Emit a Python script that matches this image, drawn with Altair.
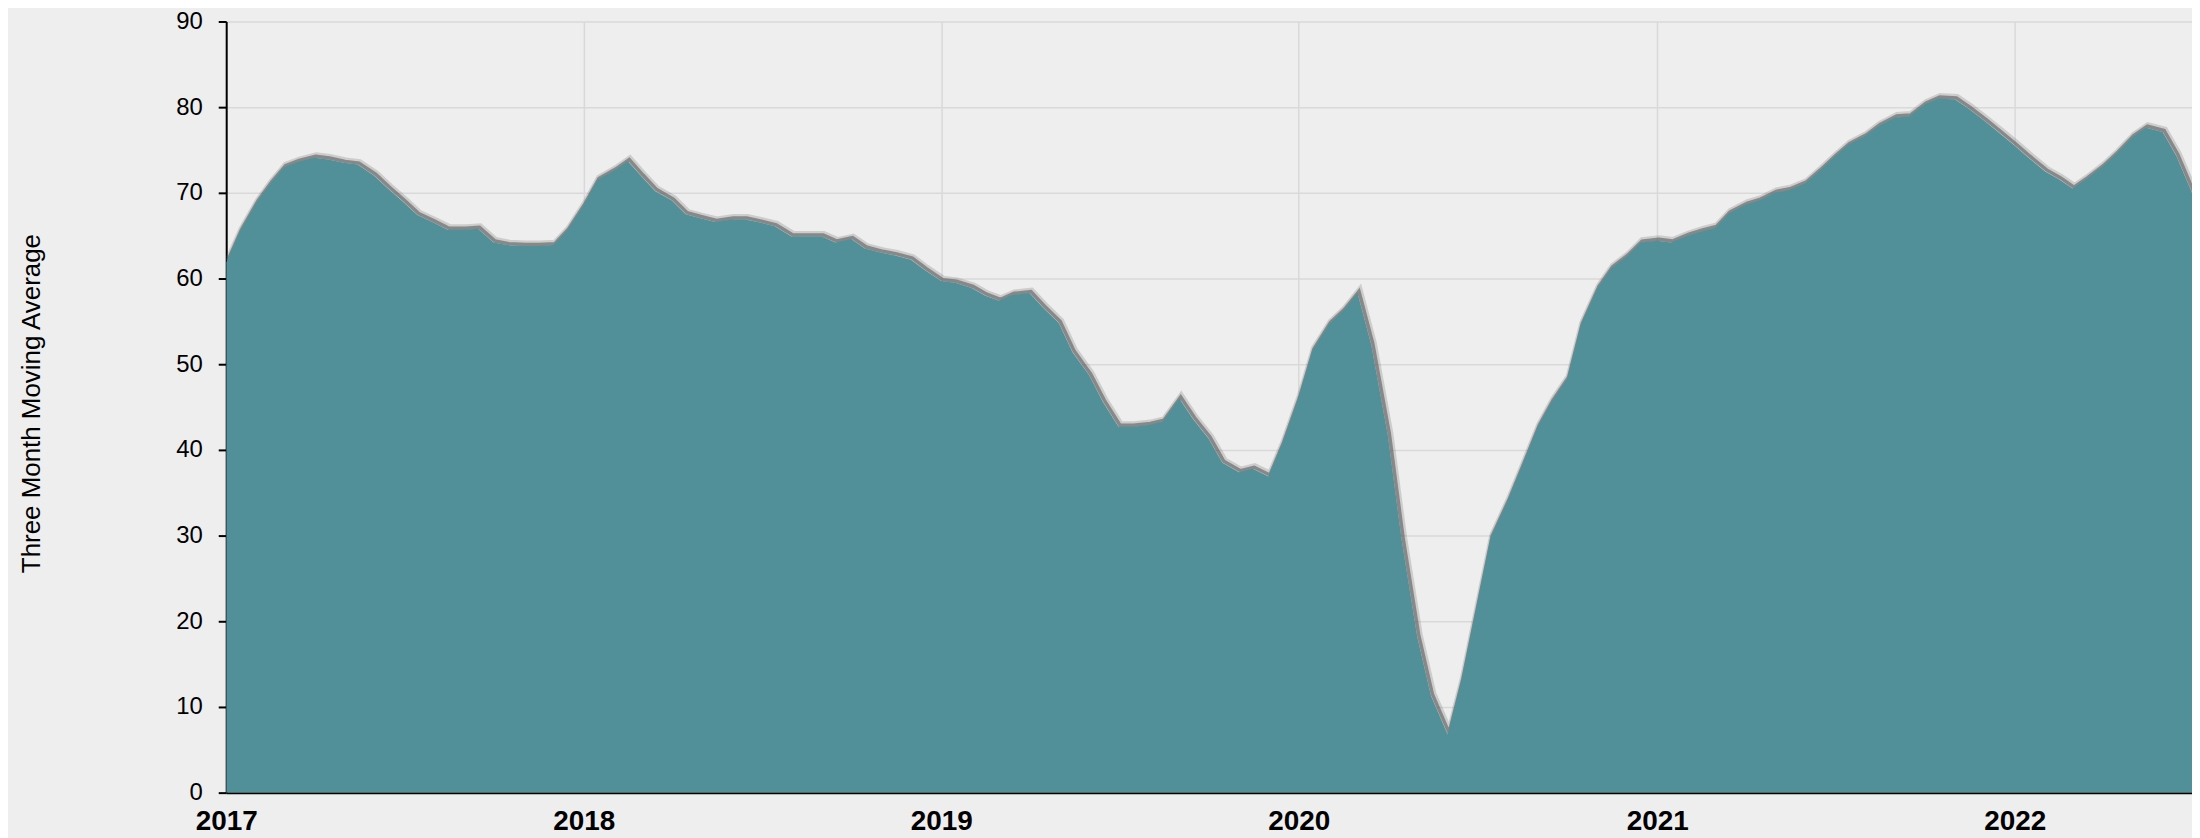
import altair as alt
import pandas as pd

# ---- data (semi-monthly three month moving average) ----
y_title = "Three Month Moving Average"
year_ticks = [2017, 2018, 2019, 2020, 2021, 2022]
y_ticks = [0, 10, 20, 30, 40, 50, 60, 70, 80, 90]

avg_2017 = [61.9, 65.5, 68.9, 71.1, 73.0, 73.6, 74.1, 73.9, 73.5, 73.3, 72.0, 70.5,
            68.9, 67.4, 66.5, 65.7, 65.7, 65.8, 64.2, 63.9, 63.8, 63.8, 63.9, 65.6]
avg_2018 = [68.6, 71.5, 72.6, 73.7, 71.9, 70.2, 69.1, 67.5, 67.0, 66.6, 66.9, 66.9,
            66.5, 66.1, 64.9, 64.9, 64.9, 64.2, 64.6, 63.5, 63.0, 62.7, 62.2, 61.0]
avg_2019 = [59.7, 59.5, 58.9, 58.0, 57.4, 58.1, 58.3, 56.6, 54.8, 51.4, 48.7, 45.6,
            42.7, 42.7, 42.9, 43.3, 46.0, 43.6, 41.3, 38.5, 37.4, 37.8, 36.9, 40.7]
avg_2020 = [46.2, 51.6, 54.7, 56.2, 58.3, 52.3, 41.7, 29.6, 18.2, 11.3, 6.8, 13.1,
            22.0, 29.8, 34.0, 37.9, 42.7, 45.6, 48.3, 54.6, 58.9, 61.2, 62.6, 64.2]
avg_2021 = [64.4, 64.2, 65.0, 65.5, 65.9, 67.6, 68.6, 69.1, 70.0, 70.3, 71.1, 72.5,
            74.2, 75.6, 76.6, 77.8, 78.8, 78.9, 80.3, 81.0, 80.9, 79.8, 78.4, 77.1]
avg_2022 = [75.5, 74.1, 72.5, 71.6, 70.5, 71.6, 73.1, 74.6, 76.5, 77.6, 77.1, 74.3,
            70.0]

values = avg_2017 + avg_2018 + avg_2019 + avg_2020 + avg_2021 + avg_2022
dates = pd.date_range("2017-01-01", periods=len(values), freq="SMS").strftime("%Y-%m-%d")
df = pd.DataFrame({"date": list(dates), "value": values})

FONT = "Liberation Sans"
GRID = "#d9d9d9"

x_enc = alt.X(
    "date:T",
    title="",
    scale=alt.Scale(
        type="utc",
        nice=False,
        domain=[alt.DateTime(year=2017, month=1, date=1, utc=True),
                alt.DateTime(year=2022, month=7, date=1, utc=True)],
    ),
    axis=alt.Axis(
        values=[alt.DateTime(year=y, month=1, date=1, utc=True) for y in year_ticks],
        format="%Y",
        formatType="utc",
        labelFont=FONT,
        labelFontSize=28,
        labelFontWeight="bold",
        labelColor="#000000",
        labelPadding=15,
        labelFlush=False,
        ticks=False,
        domainColor="#000000",
        domainWidth=2,
        gridColor=GRID,
        gridWidth=1.5,
    ),
)

y_enc = alt.Y(
    "value:Q",
    scale=alt.Scale(domain=[0, 90], nice=False),
    axis=alt.Axis(
        values=y_ticks,
        title=y_title,
        titleFont=FONT,
        titleFontSize=26,
        titleFontWeight="normal",
        titleColor="#000000",
        titleAngle=270,
        titleAlign="center",
        titleBaseline="middle",
        titleX=-195,
        titleY=383,
        labelFont=FONT,
        labelFontSize=24,
        labelColor="#000000",
        labelPadding=16,
        tickSize=8,
        tickWidth=2,
        tickColor="#000000",
        domainColor="#000000",
        domainWidth=2,
        gridColor=GRID,
        gridWidth=1.5,
    ),
)

base = alt.Chart(df).encode(x=x_enc, y=y_enc)

shadow_soft = base.mark_line(color="#6a6a6a", strokeWidth=7, opacity=0.25,
                             xOffset=2, yOffset=-2, clip=True)
shadow = base.mark_line(color="#5a5a5a", strokeWidth=3.5, opacity=0.6,
                        xOffset=1.5, yOffset=-1.5, clip=True)
area = base.mark_area(color="#518F99", opacity=1, clip=True)

chart = (
    alt.layer(shadow_soft, shadow, area)
    .properties(
        width=1973,
        height=774,
        background="#eeeeee",
        padding={"left": 219, "top": 12, "right": 0, "bottom": 44},
        autosize=alt.AutoSizeParams(type="none"),
    )
    .configure_view(strokeWidth=0)
)

chart.save("out.html", embed_options={"renderer": "svg", "actions": False})
